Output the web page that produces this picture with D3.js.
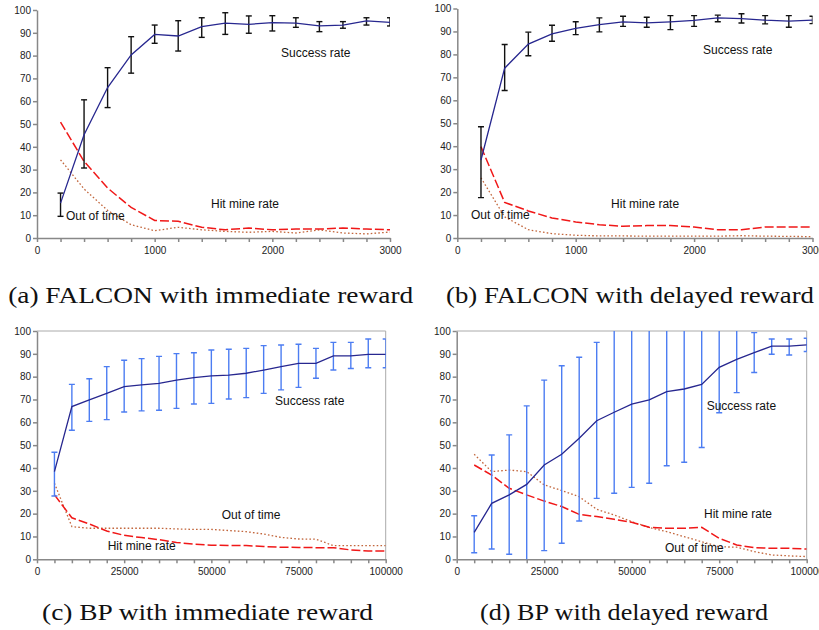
<!DOCTYPE html>
<html lang="en">
<head>
    <meta charset="UTF-8">
    <title>FALCON vs BP learning curves</title>
    <script src="https://cdnjs.cloudflare.com/ajax/libs/d3/7.8.5/d3.min.js"></script>
    <style>
        body { margin: 0; background: #fff; }
        svg { display: block; }
        .axis text { font: 10px "Liberation Sans", Arial, sans-serif; fill: #222; }
        .axis path, .axis line { fill: none; stroke: #888; stroke-width: 1.5; }
        .frame { stroke: #aaa; stroke-width: 1; }
        .series-label { font: 12px "Liberation Sans", Arial, sans-serif; fill: #111; }
        .caption { font: 23px "Liberation Serif", "Times New Roman", serif; fill: #111; }
    </style>
</head>
<body>
<svg id="fig" width="819" height="630"></svg>
<script>
    // trials (x values)
    const stepsFalcon = [200, 400, 600, 800, 1000, 1200, 1400, 1600, 1800, 2000, 2200, 2400, 2600, 2800, 3000];
    const stepsBP = [5000, 10000, 15000, 20000, 25000, 30000, 35000, 40000, 45000, 50000,
        55000, 60000, 65000, 70000, 75000, 80000, 85000, 90000, 95000, 100000];

    const yTicks = [0, 10, 20, 30, 40, 50, 60, 70, 80, 90, 100];
    const xLabelsFalcon = [0, 1000, 2000, 3000];
    const xLabelsBP = [0, 25000, 50000, 75000, 100000];

    // (a) FALCON, immediate reward
    const successA = [15.3, 45.3, 66, 80.3, 89.3, 88.6, 92.7, 94.2, 93.7, 94.5, 94.2, 93, 93.4, 95.2, 94.6];
    const errHiA = [19.7, 60.6, 74.7, 88.3, 93.4, 95.3, 96.6, 98.8, 97.4, 97.5, 96.6, 94.9, 94.9, 96.6, 96.6];
    const errLoA = [9.5, 30.7, 57.2, 72.3, 85.4, 82, 88, 89.3, 89.8, 90.8, 92.4, 90.5, 92, 93.4, 93];
    const hitMineA = [50.8, 33.6, 21.9, 13.4, 7.7, 7.3, 4.7, 3.6, 4.4, 3.6, 3.9, 3.9, 4.4, 3.9, 3.6];
    const outOfTimeA = [34.3, 21.5, 12.1, 5.8, 3.2, 4.7, 3.6, 2.9, 2.5, 2.9, 2.2, 3.6, 2.2, 1.8, 2.6];

    // (b) FALCON, delayed reward
    const successB = [34, 74, 84.5, 88.9, 91.3, 93, 94.2, 93.7, 94.2, 94.8, 95.9, 95.6, 94.9, 94.5, 94.9];
    const errHiB = [48.5, 84.3, 89.7, 92.7, 94.2, 95.9, 96.6, 96.2, 96.9, 96.9, 97.1, 97.7, 96.9, 96.9, 96.6];
    const errLoB = [17.6, 64.3, 79.4, 85.7, 88.6, 89.8, 92.2, 91.8, 90.8, 92.2, 94.2, 93.7, 93.3, 91.8, 93.4];
    const hitMineB = [39.8, 15.5, 11.8, 8.7, 7, 5.8, 5.1, 5.4, 5.4, 4.8, 3.6, 3.6, 4.8, 4.8, 4.8];
    const outOfTimeB = [26.2, 9.2, 3.6, 1.9, 1.2, 0.9, 0.9, 0.8, 0.8, 0.8, 0.8, 1.0, 0.8, 0.7, 0.6];

    // (c) BP, immediate reward
    const successC = [38.4, 66.9, 69.8, 72.7, 75.6, 76.4, 77.1, 78.5, 79.6, 80.3, 80.7, 81.5, 82.9, 84.4, 85.8, 85.8, 89.1, 89.1, 89.8, 89.8];
    const errHiC = [46.9, 76.6, 79.1, 84.4, 87.2, 87.9, 88.9, 90.1, 90.5, 91.7, 92, 92.4, 93.6, 93.9, 94.2, 92.4, 95, 95, 96.5, 96.5];
    const errLoC = [27.7, 56.5, 60.4, 61.2, 64.5, 65, 65.3, 66.1, 68, 68.3, 70.2, 70.8, 72.7, 74.2, 75.3, 79.3, 82.9, 83.6, 83.9, 83.9];
    const hitMineC = [28.2, 18.2, 15.5, 12.4, 10.5, 9.5, 8.6, 7.4, 6.6, 6.2, 6, 6, 5.6, 5.3, 5.2, 5.1, 5.1, 4.1, 3.6, 3.6];
    const outOfTimeC = [33.3, 14.3, 13.6, 13.6, 13.6, 13.6, 13.6, 13.3, 13.1, 13.1, 12.6, 12.1, 11.1, 9.6, 8.9, 8.8, 6, 6, 6, 6];

    // (d) BP, delayed reward
    const successD = [11.8, 24.5, 28.2, 32.8, 41.3, 46, 53, 60.7, 64.4, 68, 69.8, 73.4, 74.6, 76.6, 84.1, 87.6, 90.5, 93.4, 93.4, 93.9];
    const errHiD = [19.1, 45.7, 54.5, 67.2, 78.5, 84.8, 88.5, 95, 100.5, 104.5, 106, 105.8, 106.7, 104.2, 104, 102.2, 99.3, 96.5, 96.5, 96.8];
    const errLoD = [2.9, 4.5, 2.2, -1.5, 3.8, 7, 16.8, 26.7, 28.9, 31.5, 33.3, 41, 42.5, 49, 64.2, 73, 81.8, 89.8, 89.5, 91];
    const hitMineD = [41.3, 36.9, 31.1, 28.2, 25.5, 23.1, 19.7, 18.7, 17.5, 16.2, 14, 13.6, 13.6, 14, 9.2, 6.3, 5.1, 4.8, 4.8, 4.5];
    const outOfTimeD = [46, 38.4, 39.1, 38.4, 32.6, 30.1, 27.4, 21.9, 19.4, 16.5, 13.9, 12.1, 9.9, 7.7, 5.5, 5.3, 3.4, 1.9, 1.5, 1.2];

    const captions = [
        "(a) FALCON with immediate reward",
        "(b) FALCON with delayed reward",
        "(c) BP with immediate reward",
        "(d) BP with delayed reward"
    ];

    const panels = [
        {
            id: "a", steps: stepsFalcon, xMax: 3000, xLabels: xLabelsFalcon,
            success: successA, hi: errHiA, lo: errLoA, hit: hitMineA, out: outOfTimeA,
            xr: [37, 390], yr: [238, 10], barColor: "#111", framed: false,
            labels: [["Success rate", 2074, 79.4], ["Hit mine rate", 1479, 13.2], ["Out of time", 246, 7.9]],
            caption: captions[0], capX: 210.7, capY: 303, capW: 405
        },
        {
            id: "b", steps: stepsFalcon, xMax: 3000, xLabels: xLabelsFalcon,
            success: successB, hi: errHiB, lo: errLoB, hit: hitMineB, out: outOfTimeB,
            xr: [457.3, 812.5], yr: [238, 8.5], barColor: "#111", framed: false,
            labels: [["Success rate", 2075, 80.3], ["Hit mine rate", 1299, 13.1], ["Out of time", 116, 8.3]],
            caption: captions[1], capX: 630, capY: 303, capW: 368
        },
        {
            id: "c", steps: stepsBP, xMax: 100000, xLabels: xLabelsBP,
            success: successC, hi: errHiC, lo: errLoC, hit: hitMineC, out: outOfTimeC,
            xr: [37, 385.7], yr: [559.3, 331], barColor: "#4c7df2", framed: true,
            labels: [["Success rate", 68253, 67.6], ["Out of time", 52968, 17.7], ["Hit mine rate", 20275, 4.1]],
            caption: captions[2], capX: 207.5, capY: 620, capW: 331
        },
        {
            id: "d", steps: stepsBP, xMax: 100000, xLabels: xLabelsBP,
            success: successD, hi: errHiD, lo: errLoD, hit: hitMineD, out: outOfTimeD,
            xr: [456.7, 806.7], yr: [559.3, 331], barColor: "#4c7df2", framed: true,
            labels: [["Success rate", 71429, 65.4], ["Hit mine rate", 70657, 18.1], ["Out of time", 59514, 3.2]],
            caption: captions[3], capX: 624, capY: 620, capW: 288
        }
    ];

    const svg = d3.select("#fig");

    panels.forEach(function (p) {
        const x = d3.scaleLinear().domain([0, p.xMax]).range(p.xr);
        const y = d3.scaleLinear().domain([0, 100]).range(p.yr);
        const g = svg.append("g");

        // clip to plot area
        g.append("clipPath").attr("id", "clip-" + p.id)
            .append("rect")
            .attr("x", p.xr[0]).attr("y", p.yr[1])
            .attr("width", p.xr[1] - p.xr[0]).attr("height", p.yr[0] - p.yr[1]);

        if (p.framed) {
            g.append("line").attr("class", "frame")
                .attr("x1", p.xr[0]).attr("x2", p.xr[1]).attr("y1", p.yr[1]).attr("y2", p.yr[1]);
            g.append("line").attr("class", "frame")
                .attr("x1", p.xr[1]).attr("x2", p.xr[1]).attr("y1", p.yr[1]).attr("y2", p.yr[0]);
        }

        // axes
        g.append("g").attr("class", "axis")
            .attr("transform", `translate(${p.xr[0]},0)`)
            .call(d3.axisLeft(y).tickValues(yTicks).tickSize(4).tickSizeOuter(0).tickPadding(2));

        g.append("g").attr("class", "axis")
            .attr("transform", `translate(0,${p.yr[0]})`)
            .call(d3.axisBottom(x).tickValues([0].concat(p.steps)).tickSize(4).tickSizeOuter(0).tickPadding(5)
                .tickFormat(d => p.xLabels.includes(d) ? d : ""));

        const plot = g.append("g").attr("clip-path", `url(#clip-${p.id})`);
        const pts = arr => p.steps.map((s, i) => [s, arr[i]]);
        const line = d3.line().x(d => x(d[0])).y(d => y(d[1]));

        // out of time (dotted)
        plot.append("path").datum(pts(p.out))
            .attr("fill", "none").attr("stroke", "#c2663c").attr("stroke-width", 1.3)
            .attr("stroke-dasharray", "1.6,2.2").attr("d", line);

        // hit mine rate (dashed)
        plot.append("path").datum(pts(p.hit))
            .attr("fill", "none").attr("stroke", "#f01818").attr("stroke-width", 1.5)
            .attr("stroke-dasharray", "9,3").attr("d", line);

        // error bars
        const bars = plot.selectAll(".err").data(p.steps.map((s, i) => ({ s: s, hi: p.hi[i], lo: p.lo[i] })))
            .enter().append("g").attr("class", "err")
            .attr("stroke", p.barColor).attr("stroke-width", 1.4);
        bars.append("line")
            .attr("x1", d => x(d.s)).attr("x2", d => x(d.s))
            .attr("y1", d => y(d.hi)).attr("y2", d => y(d.lo));
        bars.append("line")
            .attr("x1", d => x(d.s) - 3).attr("x2", d => x(d.s) + 3)
            .attr("y1", d => y(d.hi)).attr("y2", d => y(d.hi));
        bars.append("line")
            .attr("x1", d => x(d.s) - 3).attr("x2", d => x(d.s) + 3)
            .attr("y1", d => y(d.lo)).attr("y2", d => y(d.lo));

        // success rate
        plot.append("path").datum(pts(p.success))
            .attr("fill", "none").attr("stroke", "#27278f").attr("stroke-width", 1.3)
            .attr("d", line);

        // series labels
        g.selectAll(".series-label").data(p.labels).enter()
            .append("text").attr("class", "series-label")
            .attr("x", d => x(d[1])).attr("y", d => y(d[2]))
            .text(d => d[0]);

        // caption
        g.append("text").attr("class", "caption")
            .attr("x", p.capX).attr("y", p.capY)
            .attr("text-anchor", "middle")
            .attr("textLength", p.capW).attr("lengthAdjust", "spacingAndGlyphs")
            .text(p.caption);
    });
</script>
</body>
</html>
